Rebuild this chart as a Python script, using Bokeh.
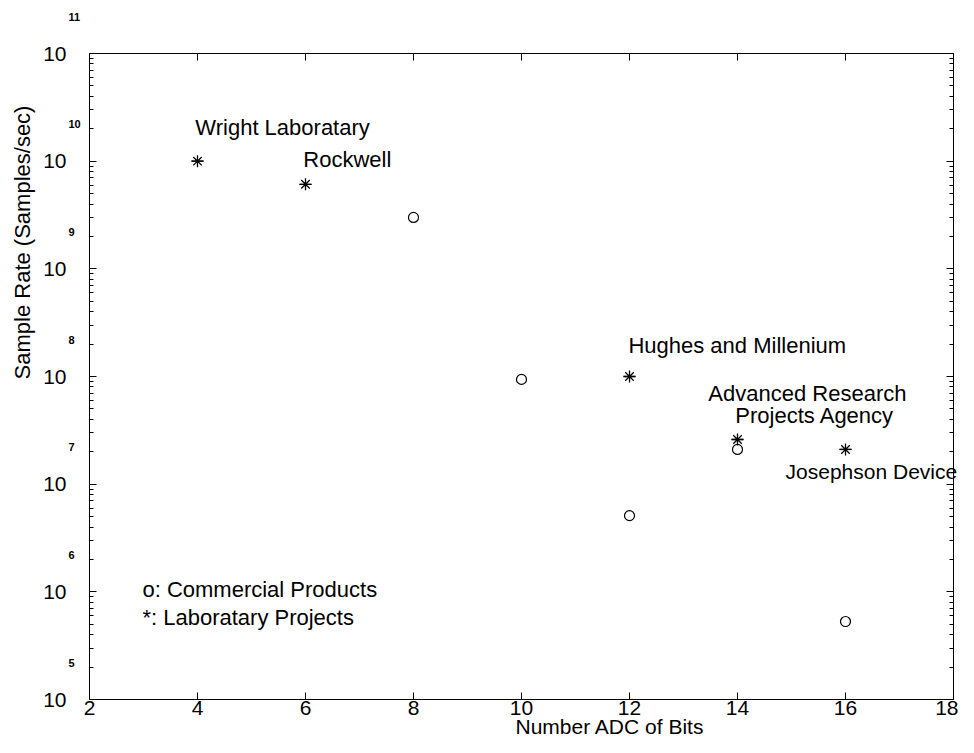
import math
from bokeh.plotting import figure
from bokeh.models import (FixedTicker, LinearAxis, LogAxis, Label, Range1d,
                          CustomJSTickFormatter)
from bokeh.embed import file_html
from bokeh.resources import INLINE

# ---- data ----
bits_commercial = [8, 10, 12, 14, 16]
rate_commercial = [3.0e9, 9.4e7, 5.1e6, 2.1e7, 5.3e5]

bits_laboratory = [4, 6, 12, 14, 16]
rate_laboratory = [1.0e10, 6.1e9, 1.0e8, 2.6e7, 2.1e7]

x_ticks = [2, 4, 6, 8, 10, 12, 14, 16, 18]
y_exponents = [5, 6, 7, 8, 9, 10, 11]
y_tick_base = "10"

note_texts = ["Wright Laboratary", "Rockwell", "Hughes and Millenium",
              "Advanced Research", "Projects Agency", "Josephson Device",
              "o: Commercial Products", "*: Laboratary Projects"]
note_x = [3.96, 5.96, 11.98, 13.46, 13.96, 14.89, 2.98, 2.98]
note_y = [1.73e10, 8.73e9, 1.64e8, 5.86e7, 3.66e7, 1.10e7, 8.87e5, 4.86e5]
note_size = ["22px", "22px", "22px", "22px", "22px", "21px", "22px", "22px"]

x_title = "Number ADC of Bits"
y_title = "Sample Rate (Samples/sec)"

x_start, x_end = 2, 18
y_start, y_end = 1e5, 1e11

FONT = "Liberation Sans"

# geometry of the axes box inside the canvas (screen pixels from top-left)
LEFT, RIGHT, TOP, BOTTOM = 89, 953, 53, 699
W, H = 958, 737
px_per_x = (RIGHT - LEFT) / (x_end - x_start)
px_per_decade = (BOTTOM - TOP) / (math.log10(y_end) - math.log10(y_start))

# data ranges spanning the whole canvas so that the axes box sits where the reference has it
x_lo = x_start - LEFT / px_per_x
x_hi = x_end + (W - RIGHT) / px_per_x
y_lo = 10 ** (math.log10(y_start) - (H - BOTTOM) / px_per_decade)
y_hi = 10 ** (math.log10(y_end) + TOP / px_per_decade)

def sx(x):
    return LEFT + (x - x_start) * px_per_x

def sy(y):
    """screen y measured upwards from the canvas bottom"""
    return (H - BOTTOM) + (math.log10(y) - math.log10(y_start)) * px_per_decade

def screen_label(**kw):
    kw.setdefault("text_font", FONT)
    kw.setdefault("text_color", "black")
    return Label(x_units="screen", y_units="screen", **kw)

p = figure(width=W, height=H, x_range=Range1d(x_lo, x_hi), y_range=Range1d(y_lo, y_hi),
           y_axis_type="log", output_backend="svg", toolbar_location=None,
           min_border_left=0, min_border_right=0, min_border_top=0, min_border_bottom=0)

p.title.visible = False
p.grid.visible = False
p.outline_line_color = None
p.background_fill_color = "white"
p.border_fill_color = "white"

xt = FixedTicker(ticks=x_ticks, minor_ticks=[])
yt = FixedTicker(ticks=[10.0 ** e for e in y_exponents],
                 minor_ticks=[m * 10.0 ** e for e in y_exponents[:-1] for m in range(2, 10)])

def style_axis(ax):
    ax.axis_line_color = "black"
    ax.axis_line_width = 1
    ax.major_tick_line_color = "black"
    ax.minor_tick_line_color = "black"
    ax.major_tick_in = 7
    ax.major_tick_out = 0
    ax.minor_tick_in = 4
    ax.minor_tick_out = 0
    ax.major_label_text_font = FONT
    ax.major_label_text_color = "black"
    ax.major_label_text_font_size = "21px"

for ax in p.xaxis:
    ax.ticker = xt
    ax.bounds = (x_start, x_end)
    ax.fixed_location = y_start
    style_axis(ax)
    ax.major_label_standoff = 1

for ax in p.yaxis:
    ax.ticker = yt
    ax.bounds = (y_start, y_end)
    ax.fixed_location = x_start
    style_axis(ax)
    ax.formatter = CustomJSTickFormatter(args=dict(base=y_tick_base), code="return base")
    ax.major_label_standoff = 23

top_axis = LinearAxis(ticker=xt, bounds=(x_start, x_end), fixed_location=y_end,
                      formatter=CustomJSTickFormatter(code="return ''"))
style_axis(top_axis)
top_axis.major_label_standoff = 0
p.add_layout(top_axis, "above")

right_axis = LogAxis(ticker=yt, bounds=(y_start, y_end), fixed_location=x_end,
                     formatter=CustomJSTickFormatter(code="return ''"))
style_axis(right_axis)
right_axis.major_label_standoff = 0
p.add_layout(right_axis, "right")

# exponents of the y tick labels (placed up-right of each "10")
for e in y_exponents:
    p.add_layout(screen_label(x=LEFT - 21, y=sy(10.0 ** e) + 37, text=str(e),
                              text_font_size="11px", text_font_style="bold",
                              text_align="left", text_baseline="middle"))

# markers
p.scatter(bits_commercial, rate_commercial, marker="circle", size=10,
          fill_color="white", line_color="black", line_width=1.2)
p.scatter(bits_laboratory, rate_laboratory, marker="asterisk", size=12,
          line_color="black", line_width=1.3)
p.scatter(bits_laboratory, rate_laboratory, marker="dash", size=12,
          line_color="black", line_width=1.3)

# annotations
for t, x, y, fs in zip(note_texts, note_x, note_y, note_size):
    p.add_layout(screen_label(x=sx(x), y=sy(y) + 8, text=t, text_font_size=fs,
                              text_align="left", text_baseline="alphabetic"))

# axis titles
p.add_layout(screen_label(x=515, y=0, text=x_title, text_font_size="21px",
                          text_align="left", text_baseline="bottom"))
p.add_layout(screen_label(x=22, y=H - 242, text=y_title, angle=math.pi / 2,
                          text_font_size="22px", text_align="center", text_baseline="middle"))

open("out.html", "w").write(file_html(p, INLINE))
